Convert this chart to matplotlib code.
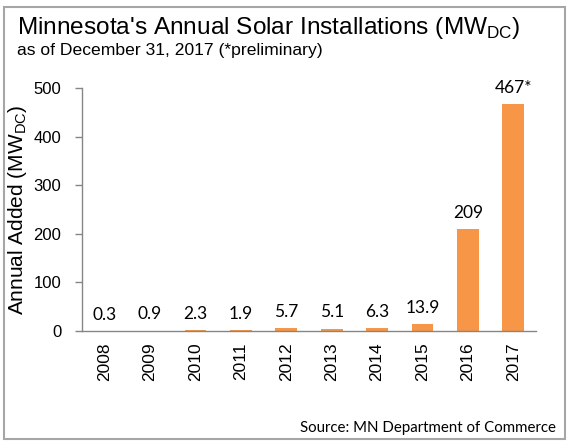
import matplotlib
matplotlib.use("Agg")
import matplotlib.pyplot as plt
from matplotlib.patches import Rectangle

years = ["2008", "2009", "2010", "2011", "2012", "2013", "2014", "2015", "2016", "2017"]
added_mw = [0.3, 0.9, 2.3, 1.9, 5.7, 5.1, 6.3, 13.9, 209, 467]
bar_labels = ["0.3", "0.9", "2.3", "1.9", "5.7", "5.1", "6.3", "13.9", "209", "467*"]
y_ticks = [0, 100, 200, 300, 400, 500]

orange = "#F79646"
axis_gray = "#868686"
arial = ["Liberation Sans", "DejaVu Sans"]
calibri = ["Lato", "DejaVu Sans"]

fig = plt.figure(figsize=(5.72, 4.48), dpi=100)
ax = fig.add_axes([0.1434, 0.2612, 0.7937, 0.5424])

x = range(len(years))
ax.bar(x, added_mw, width=0.48, color=orange, zorder=2)

# data labels sit a little above each bar
for i, (v, lab) in enumerate(zip(added_mw, bar_labels)):
    ax.annotate(lab, (i, v), xytext=(0, 6), textcoords="offset points",
                ha="center", va="bottom", fontsize=12.5, family=calibri)

ax.set_xlim(-0.5, len(years) - 0.5)
ax.set_ylim(0, 500)
ax.set_yticks(y_ticks)
ax.set_yticklabels([str(t) for t in y_ticks], family=arial, fontsize=12)
ax.set_xticks(list(x))
ax.set_xticklabels(years, rotation=90, family=arial, fontsize=12.5)
ax.tick_params(axis="x", length=0, pad=8)
ax.tick_params(axis="y", length=5, color=axis_gray, width=1, pad=10)

for s in ["top", "right"]:
    ax.spines[s].set_visible(False)
for s in ["left", "bottom"]:
    ax.spines[s].set_color(axis_gray)
    ax.spines[s].set_linewidth(1)

ax.set_ylabel(r"Annual Added (MW$_{\mathregular{DC}}$)", family=arial, fontsize=15, labelpad=3)

fig.text(0.03, 0.9375, r"Minnesota's Annual Solar Installations (MW$_{\mathregular{DC}}$)",
         family=arial, fontsize=17.6, va="center", ha="left")
fig.text(0.03, 0.888, "as of December 31, 2017 (*preliminary)",
         family=arial, fontsize=12.6, va="center", ha="left")
fig.text(0.972, 0.0446, "Source: MN Department of Commerce",
         family=calibri, fontsize=10.8, va="center", ha="right")

fig.patches.append(Rectangle((0.007, 0.02), 0.981, 0.964, transform=fig.transFigure,
                             fill=False, edgecolor="#A6A6A6", linewidth=1.5))

fig.savefig("out.png", dpi=100)
